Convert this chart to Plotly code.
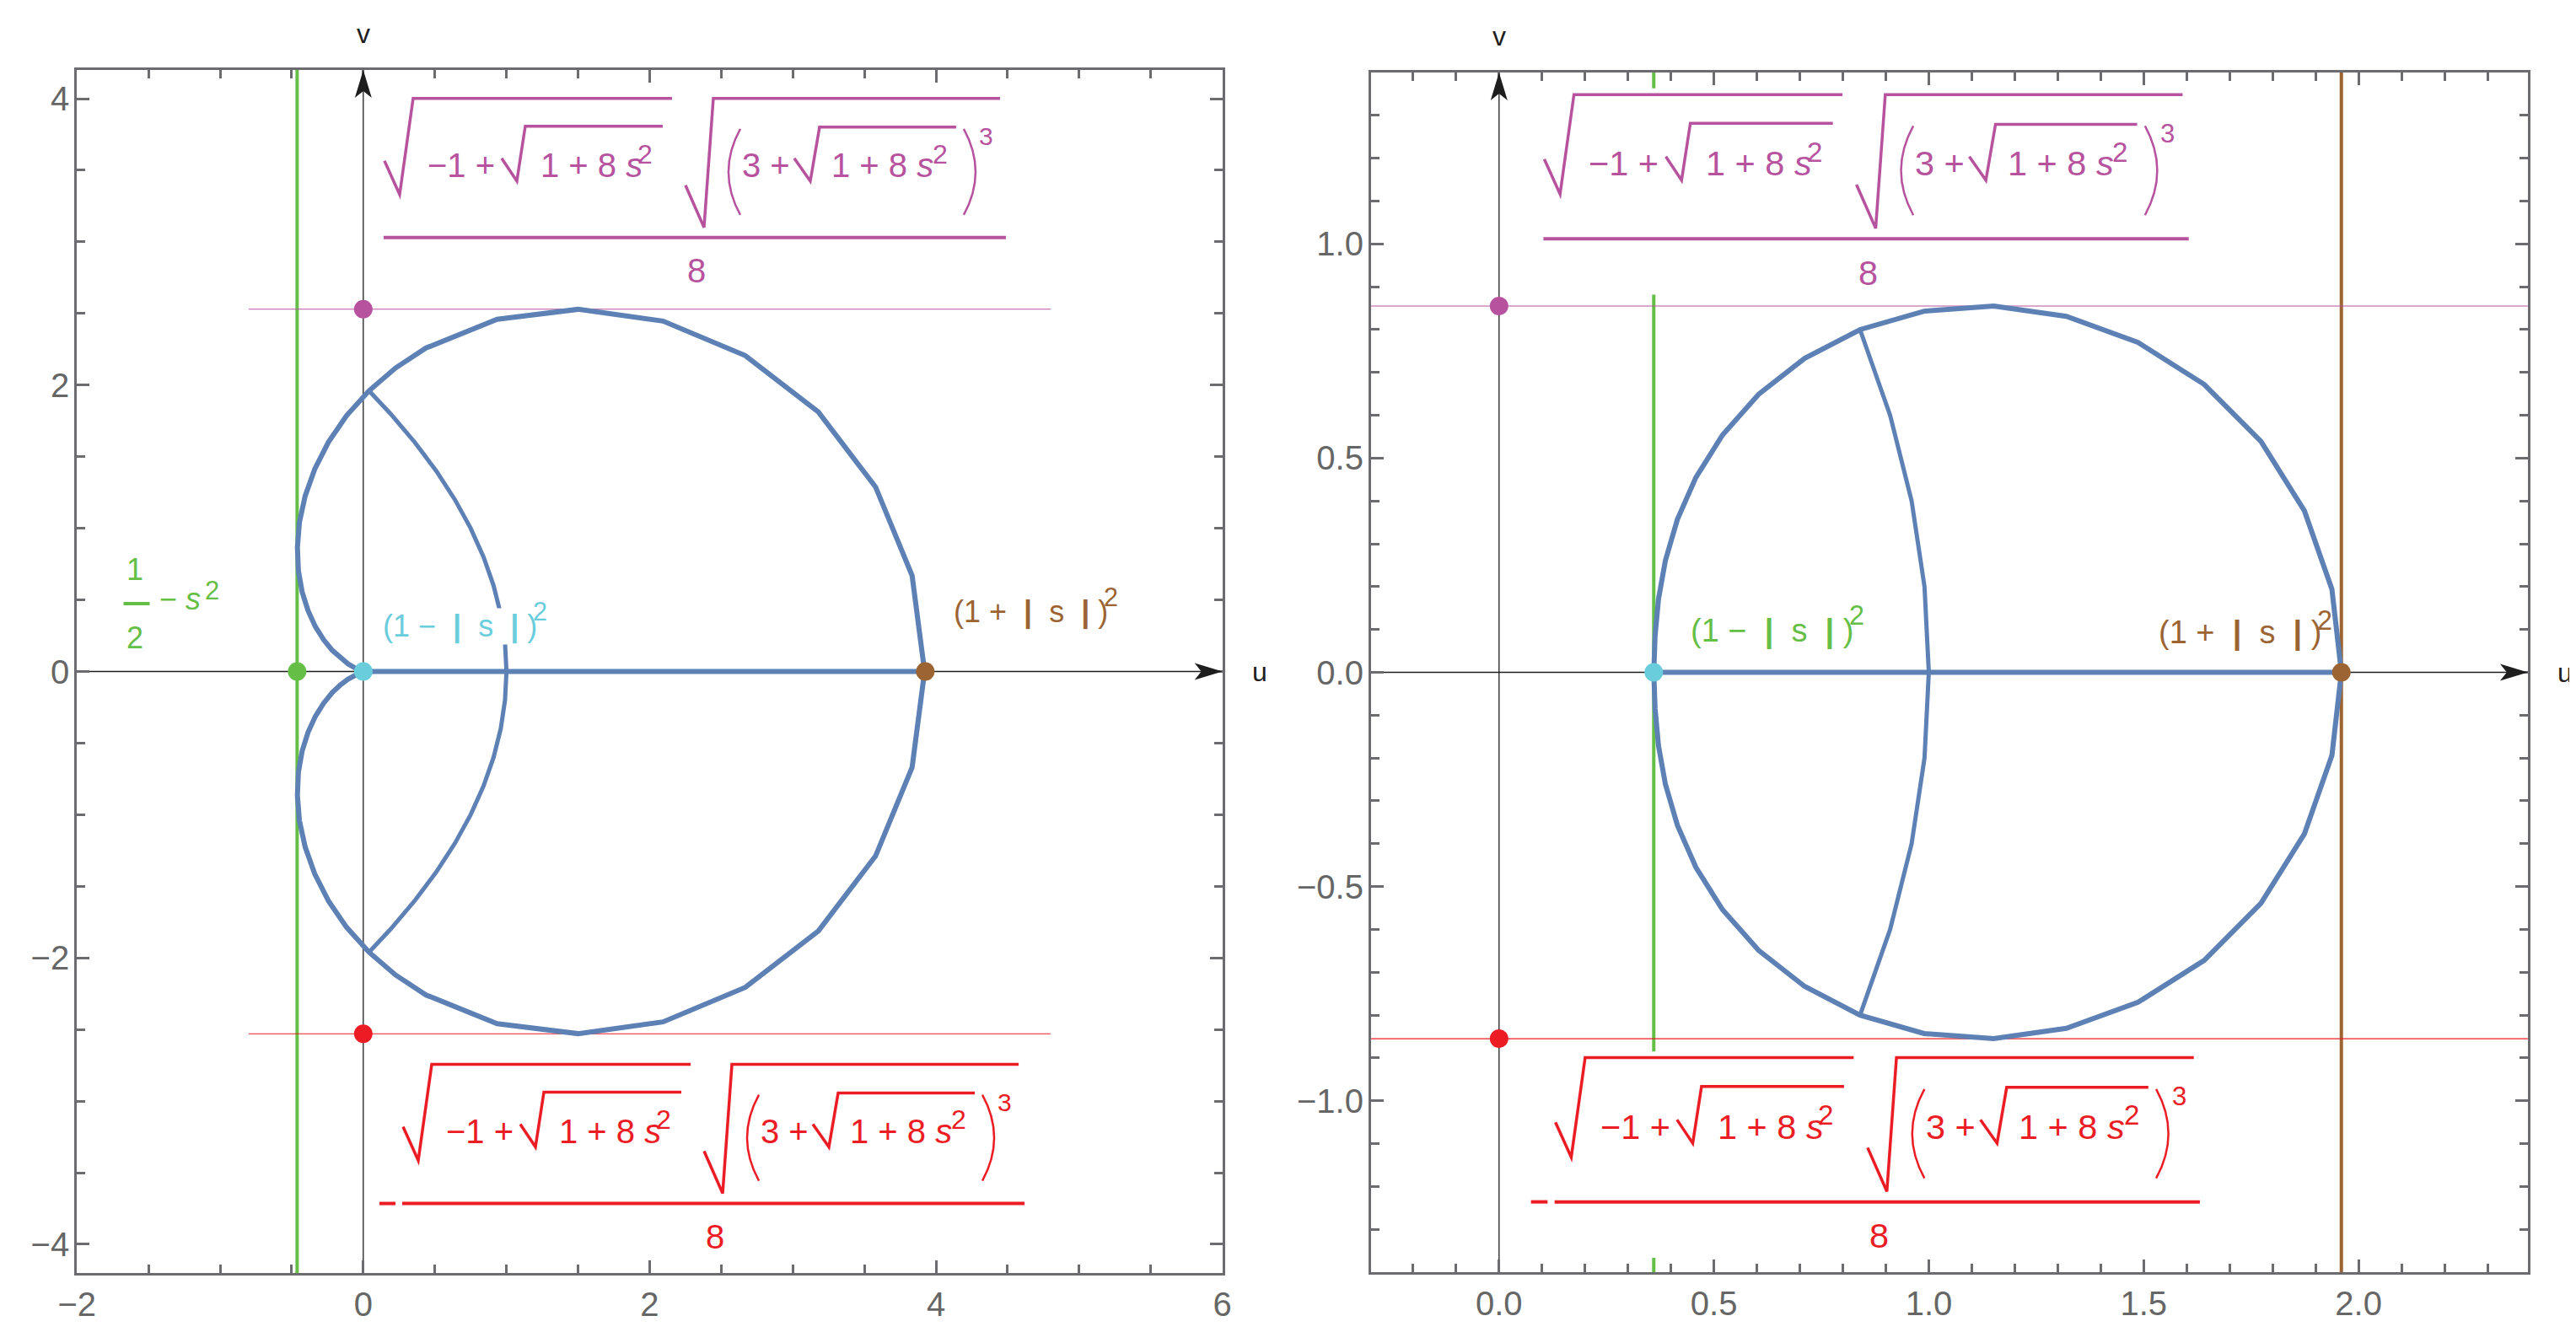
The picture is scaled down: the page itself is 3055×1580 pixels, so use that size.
import plotly.graph_objects as go

# ---------------- data: left panel (s = 0.98) ----------------
L_U_RANGE = [-2, 6]
L_V_RANGE = [-4.2, 4.2]
L_OUTER_U = [3.920, 3.833, 3.578, 3.178, 2.668, 2.093, 1.500, 0.935, 0.438, 0.225,
             0.040, -0.117, -0.243, -0.339, -0.406, -0.446, -0.460, -0.453, -0.427, -0.386,
             -0.335, -0.277, -0.217, -0.159, -0.106, -0.062, -0.028, -0.007, 0.000,
             -0.007, -0.028, -0.062, -0.106, -0.159, -0.217, -0.277, -0.335, -0.386, -0.427,
             -0.453, -0.460, -0.446, -0.406, -0.339, -0.243, -0.117, 0.040, 0.225, 0.438,
             0.935, 1.500, 2.093, 2.668, 3.178, 3.578, 3.833, 3.920]
L_OUTER_V = [0.000, 0.669, 1.288, 1.812, 2.206, 2.447, 2.529, 2.459, 2.259, 2.119,
             1.960, 1.786, 1.602, 1.413, 1.225, 1.041, 0.866, 0.703, 0.556, 0.426,
             0.314, 0.222, 0.148, 0.093, 0.053, 0.027, 0.012, 0.004, 0.000,
             -0.004, -0.012, -0.027, -0.053, -0.093, -0.148, -0.222, -0.314, -0.426, -0.556,
             -0.703, -0.866, -1.041, -1.225, -1.413, -1.602, -1.786, -1.960, -2.119, -2.259,
             -2.459, -2.529, -2.447, -2.206, -1.812, -1.288, -0.669, 0.000]
L_INNER_U = [0.040, 0.190, 0.360, 0.510, 0.640, 0.750, 0.840, 0.910, 0.960, 0.990, 1.000,
             0.990, 0.960, 0.910, 0.840, 0.750, 0.640, 0.510, 0.360, 0.190, 0.040]
L_INNER_V = [1.96, 1.8, 1.6, 1.4, 1.2, 1.0, 0.8, 0.6, 0.4, 0.2, 0.0,
             -0.2, -0.4, -0.6, -0.8, -1.0, -1.2, -1.4, -1.6, -1.8, -1.96]
L_SEG_U = [0.0004, 3.92]
L_SEG_V = [0, 0]
L_GREEN_U = -0.462         # 1/2 - s^2
L_HLINE_U = [-0.8, 4.8]
L_TOP_V = 2.53
L_BOT_V = -2.53
L_CYAN_U = 0.0004          # (1-|s|)^2
L_BROWN_U = 3.925          # (1+|s|)^2

# ---------------- data: right panel (s = 0.4) ----------------
R_U_RANGE = [-0.298, 2.394]
R_V_RANGE = [-1.4, 1.4]
R_OUTER_U = [1.960, 1.938, 1.874, 1.773, 1.641, 1.487, 1.320, 1.151, 0.989, 0.840,
             0.711, 0.604, 0.520, 0.458, 0.415, 0.387, 0.371, 0.363, 0.360,
             0.363, 0.371, 0.387, 0.415, 0.458, 0.520, 0.604, 0.711, 0.840,
             0.989, 1.151, 1.320, 1.487, 1.641, 1.773, 1.874, 1.938, 1.960]
R_OUTER_V = [0.000, 0.194, 0.377, 0.539, 0.672, 0.770, 0.831, 0.855, 0.843, 0.800,
             0.733, 0.649, 0.554, 0.455, 0.357, 0.261, 0.171, 0.084, 0.000,
             -0.084, -0.171, -0.261, -0.357, -0.455, -0.554, -0.649, -0.733, -0.800,
             -0.843, -0.855, -0.831, -0.770, -0.672, -0.539, -0.377, -0.194, 0.000]
R_INNER_U = [0.84, 0.91, 0.96, 0.99, 1.00, 0.99, 0.96, 0.91, 0.84]
R_INNER_V = [0.8, 0.6, 0.4, 0.2, 0.0, -0.2, -0.4, -0.6, -0.8]
R_SEG_U = [0.36, 1.96]
R_SEG_V = [0, 0]
R_GREEN_U = 0.36
R_BROWN_U = 1.96
R_TOP_V = 0.855
R_BOT_V = -0.855

# ---------------- styles ----------------
FONT = "Liberation Sans"
BLUE = "#5E81B5"
GREEN = "#65BE46"
CYAN = "#69CDDC"
BROWN = "#9B6432"
MAGENTA = "#B7529E"
RED = "#EC1C24"
FRAME = "#6B6B70"
TICK = "#666666"
INK = "#1E1E1E"

fig = go.Figure()
shapes = []
annots = []


def line(xs, ys, color, width, xa, ya):
    fig.add_trace(go.Scatter(x=xs, y=ys, mode="lines", line=dict(color=color, width=width),
                             xaxis=xa, yaxis=ya, hoverinfo="skip", showlegend=False))


def dots(xs, ys, color, xa, ya):
    fig.add_trace(go.Scatter(x=xs, y=ys, mode="markers", marker=dict(color=color, size=22),
                             xaxis=xa, yaxis=ya, hoverinfo="skip", showlegend=False))


def px_path(pts, k=1.0):
    return "M" + " L".join(f"{x * k:.1f},{y * k:.1f}" for x, y in pts)


def px_shape(xr, yr, ax, ay, **kw):
    d = dict(xref=xr, yref=yr, xsizemode="pixel", ysizemode="pixel", xanchor=ax, yanchor=ay,
             layer="above")
    d.update(kw)
    shapes.append(d)


def text(xr, yr, x, y, s, color, size, dx=0, dy=0, xanchor="left", yanchor="bottom", bg=None):
    a = dict(xref=xr, yref=yr, x=x, y=y, text=s, showarrow=False, xshift=dx, yshift=dy,
             xanchor=xanchor, yanchor=yanchor, borderpad=0,
             font=dict(family=FONT, size=size, color=color))
    if bg:
        a["bgcolor"] = bg
    annots.append(a)


# big fraction  sqrt(-1+sqrt(1+8s^2)) sqrt((3+sqrt(1+8s^2))^3) / 8, offsets in px from bar centre
F_TEXT = [(-318, 71, "−1 +", 40), (-184, 71, "1 + 8 <i>s</i>", 40), (-69, 87, "2", 32),
          (55, 71, "3 +", 40), (161, 71, "1 + 8 <i>s</i>", 40), (281, 87, "2", 32),
          (336, 109, "3", 30)]
F_RADICALS = [[(-368, 91), (-350, 51), (-334, 165), (-27, 165)],
              [(-229, 94), (-211, 67), (-201, 132), (-38, 132)],
              [(-11, 62), (11, 12), (22, 165), (362, 165)],
              [(118, 94), (137, 67), (148, 131), (310, 131)]]


def formula(xr, yr, x, y, color, k=1.0, neg=False):
    left = -400 if neg else -372
    px_shape(xr, yr, x, y, type="rect", x0=left * k, x1=374 * k, y0=-64 * k, y1=172 * k,
             fillcolor="white", line=dict(width=0))
    for pts in F_RADICALS:
        px_shape(xr, yr, x, y, type="path", path=px_path(pts, k), line=dict(color=color, width=3.5))
    px_shape(xr, yr, x, y, type="path", path=f"M{54*k},{129*k} Q{26*k},{78*k} {54*k},{27*k}",
             line=dict(color=color, width=2.5))
    px_shape(xr, yr, x, y, type="path", path=f"M{319*k},{129*k} Q{347*k},{78*k} {319*k},{27*k}",
             line=dict(color=color, width=2.5))
    px_shape(xr, yr, x, y, type="line", x0=-369 * k, x1=369 * k, y0=0, y1=0,
             line=dict(color=color, width=4))
    if neg:
        px_shape(xr, yr, x, y, type="line", x0=-396 * k, x1=-377 * k, y0=0, y1=0,
                 line=dict(color=color, width=4))
    for dx, dy, s, size in F_TEXT:
        text(xr, yr, x, y, s, color, size * k, dx=dx * k, dy=dy * k - 0.212 * size * k)
    text(xr, yr, x, y, "8", color, 40 * k, dx=2 * k, dy=-54 * k - 0.212 * 40 * k, xanchor="center")


def arrows(xr, yr, urange, vrange):
    px_shape(xr, yr, urange[1], 0, type="path", path="M0,0 L-33,10 L-25,0 L-33,-10 Z",
             fillcolor=INK, line=dict(width=0))
    px_shape(xr, yr, 0, vrange[1], type="path", path="M0,0 L-10,-33 L0,-25 L10,-33 Z",
             fillcolor=INK, line=dict(width=0))
    text(xr, yr, urange[1], 0, "u", INK, 32, dx=34, dy=0, yanchor="middle")
    text(xr, yr, 0, vrange[1], "v", INK, 32, dx=0, dy=24, xanchor="center")


BAR = "<b>|</b>"


def power_label(xr, yr, x, y, sign, color, size, sup_dx, sup_dy):
    s = f"(1 {sign} \u00a0{BAR}\u00a0\u00a0s\u00a0\u00a0{BAR}\u00a0)"
    text(xr, yr, x, y, s, color, size, dy=-0.212 * size, bg="white")
    text(xr, yr, x, y, "2", color, size * 0.85, dx=sup_dx, dy=sup_dy - 0.212 * size * 0.85)


# ---------------- left panel ----------------
xa, ya, xr, yr = "x", "y", "x", "y"
line([L_GREEN_U, L_GREEN_U], L_V_RANGE, GREEN, 4, xa, ya)
line(L_HLINE_U, [L_TOP_V, L_TOP_V], MAGENTA, 1.2, xa, ya)
line(L_HLINE_U, [L_BOT_V, L_BOT_V], RED, 1.2, xa, ya)
line(L_U_RANGE, [0, 0], INK, 1.3, xa, ya)
line([0, 0], L_V_RANGE, INK, 1.3, xa, ya)
line(L_OUTER_U, L_OUTER_V, BLUE, 6, xa, ya)
line(L_INNER_U, L_INNER_V, BLUE, 5, xa, ya)
line(L_SEG_U, L_SEG_V, BLUE, 6, xa, ya)
dots([0], [L_TOP_V], MAGENTA, xa, ya)
dots([0], [L_BOT_V], RED, xa, ya)
dots([L_GREEN_U], [0], GREEN, xa, ya)
dots([L_CYAN_U], [0], CYAN, xa, ya)
dots([L_BROWN_U], [0], BROWN, xa, ya)

arrows(xr, yr, L_U_RANGE, L_V_RANGE)
formula(xr, yr, 2.315, 3.03, MAGENTA)
formula(xr, yr, 2.445, -3.715, RED, neg=True)
power_label(xr, yr, 0.13, 0.233, "−", CYAN, 36, 178, 20)
power_label(xr, yr, 4.12, 0.333, "+", BROWN, 36, 178, 20)
# 1/2 - s^2
fx, fy = -1.583, 0.474
px_shape(xr, yr, fx, fy, type="line", x0=-15.5, x1=15.5, y0=0, y1=0, line=dict(color=GREEN, width=4))
text(xr, yr, fx, fy, "1", GREEN, 36, dx=-2, dy=27 - 0.212 * 36, xanchor="center")
text(xr, yr, fx, fy, "2", GREEN, 36, dx=-2, dy=-54 - 0.212 * 36, xanchor="center")
text(xr, yr, fx, fy, "− <i>s</i>", GREEN, 36, dx=26, dy=-8 - 0.212 * 36)
text(xr, yr, fx, fy, "2", GREEN, 31, dx=80, dy=4 - 0.212 * 31)

# ---------------- right panel ----------------
xa, ya, xr, yr = "x2", "y2", "x2", "y2"
line([R_GREEN_U, R_GREEN_U], R_V_RANGE, GREEN, 4, xa, ya)
line([R_BROWN_U, R_BROWN_U], R_V_RANGE, BROWN, 4, xa, ya)
line(R_U_RANGE, [R_TOP_V, R_TOP_V], MAGENTA, 1.2, xa, ya)
line(R_U_RANGE, [R_BOT_V, R_BOT_V], RED, 1.2, xa, ya)
line(R_U_RANGE, [0, 0], INK, 1.3, xa, ya)
line([0, 0], R_V_RANGE, INK, 1.3, xa, ya)
line(R_OUTER_U, R_OUTER_V, BLUE, 6, xa, ya)
line(R_INNER_U, R_INNER_V, BLUE, 5, xa, ya)
line(R_SEG_U, R_SEG_V, BLUE, 6, xa, ya)
dots([0], [R_TOP_V], MAGENTA, xa, ya)
dots([0], [R_BOT_V], RED, xa, ya)
dots([R_GREEN_U], [0], CYAN, xa, ya)
dots([R_BROWN_U], [0], BROWN, xa, ya)

arrows(xr, yr, R_U_RANGE, R_V_RANGE)
formula(xr, yr, 0.854, 1.012, MAGENTA, k=1.037)
formula(xr, yr, 0.88, -1.236, RED, k=1.037, neg=True)
power_label(xr, yr, 0.444, 0.0685, "−", GREEN, 38, 188, 21)
power_label(xr, yr, 1.533, 0.0646, "+", BROWN, 38, 188, 17)


def frame_axis(rng, dtick, minor, domain, anchor, fmt, standoff):
    return dict(range=rng, domain=domain, anchor=anchor, showgrid=False, zeroline=False,
                automargin=False,
                showline=True, linecolor=FRAME, linewidth=3, mirror="ticks",
                ticks="inside", ticklen=15, tickwidth=2.5, tickcolor=FRAME,
                tick0=0, dtick=dtick, tickformat=fmt, ticklabelstandoff=standoff,
                minor=dict(ticks="inside", tick0=0, dtick=minor, ticklen=10, tickwidth=2.5,
                           tickcolor=FRAME, showgrid=False),
                tickfont=dict(family=FONT, size=40, color=TICK))


fig.update_layout(
    width=3055, height=1580, autosize=False,
    margin=dict(l=0, r=0, t=0, b=0),
    paper_bgcolor="white", plot_bgcolor="white",
    xaxis=frame_axis(L_U_RANGE, 2, 0.5, [0.02723, 0.47192], "y", "d", 0),
    yaxis=frame_axis(L_V_RANGE, 2, 0.5, [0.0494, 0.9525], "x", "d", -2),
    xaxis2=frame_axis(R_U_RANGE, 0.5, 0.1, [0.5296, 0.9787], "y2", ".1f", 0),
    yaxis2=frame_axis(R_V_RANGE, 0.5, 0.1, [0.0500, 0.9506], "x2", ".1f", -2),
    shapes=shapes,
    annotations=annots,
)

fig.write_html("out.html")
